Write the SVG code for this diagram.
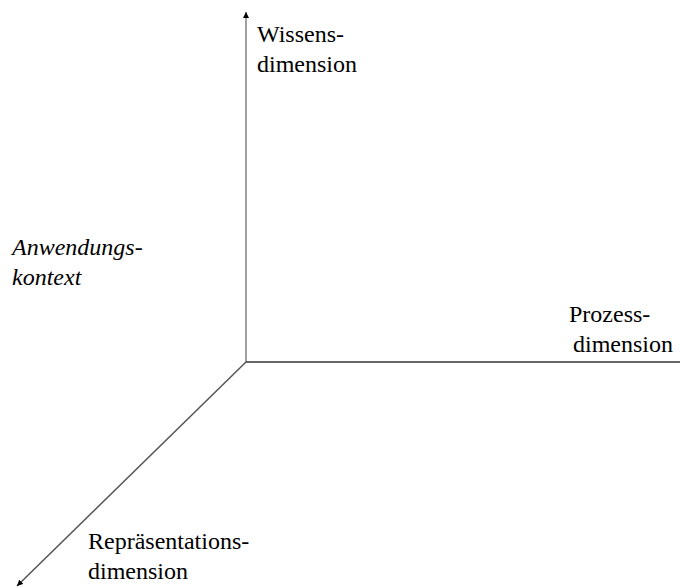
<svg xmlns="http://www.w3.org/2000/svg" width="681" height="587" viewBox="0 0 681 587">
<style>
text{font-family:'Liberation Serif','Times New Roman',Times,'DejaVu Serif',serif;font-size:24px;fill:#000}
.it{font-style:italic}
.ax{fill:none;stroke-width:1.5}
</style>
<defs>
<marker id="ah" viewBox="0 0 10 10" refX="10" refY="5" markerWidth="6" markerHeight="6" markerUnits="userSpaceOnUse" orient="auto">
<path d="M0,0 L10,5 L0,10 z" fill="#000"/>
</marker>
</defs>
<rect width="681" height="587" fill="#fff"/>
<g id="connectors">
<line class="ax" x1="246" y1="362" x2="246" y2="12" stroke="#808080" marker-end="url(#ah)"/>
<line class="ax" x1="246" y1="362" x2="680" y2="362" stroke="#333"/>
<line class="ax" x1="246" y1="362" x2="17" y2="586" stroke="#555" stroke-width="1" marker-end="url(#ah)"/>
</g>
<g id="wissen" font-family="Liberation Serif, serif"><text x="257" y="42">Wissens-</text><text x="257" y="72">dimension</text></g>
<g id="prozess" font-family="Liberation Serif, serif"><text x="569" y="322">Prozess-</text><text x="573" y="352">dimension</text></g>
<g id="repraesentation" font-family="Liberation Serif, serif"><text x="88" y="549">Repräsentations-</text><text x="88" y="579">dimension</text></g>
<g id="anwendung" font-family="Liberation Serif, serif"><text class="it" x="12" y="255">Anwendungs-</text><text class="it" x="12" y="285">kontext</text></g>
</svg>
